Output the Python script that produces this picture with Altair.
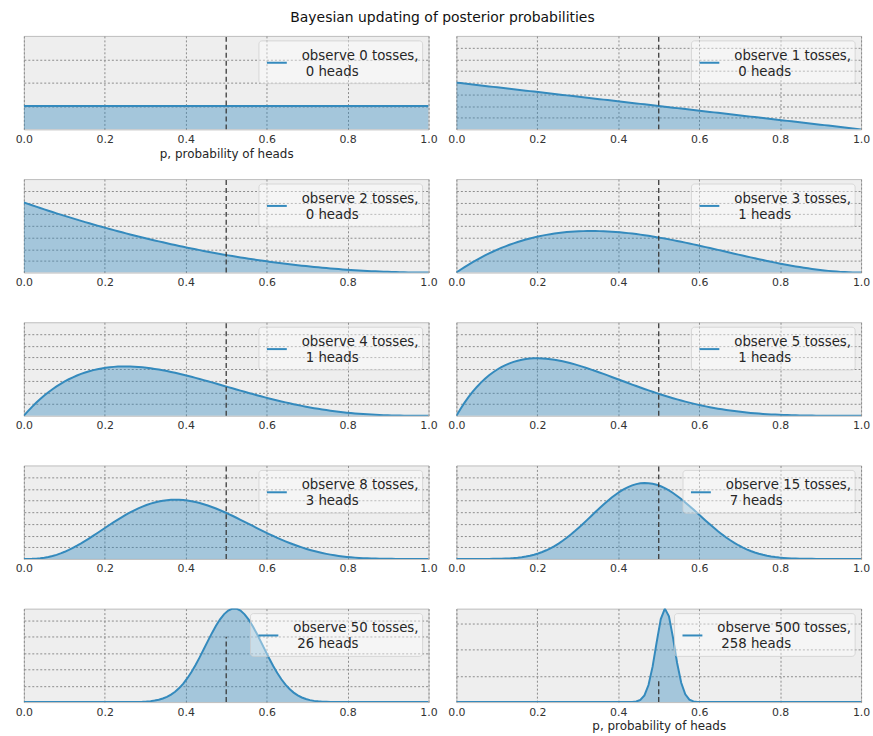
import math
import altair as alt
import pandas as pd

# observed data: number of tosses and number of heads in each panel
tosses = [0, 1, 2, 3, 4, 5, 8, 15, 50, 500]
heads = [0, 0, 0, 1, 1, 1, 3, 7, 26, 258]
grid_steps = [1, 0.5, 0.5, 0.5, 0.5, 0.5, 0.5, 0.5, 1, 5]
x_ticks = [0.0, 0.2, 0.4, 0.6, 0.8, 1.0]
n_points = 100

W, H = 407, 94
BLUE = "#348ABD"
FONT = "DejaVu Sans"
LEG_FS = 13.4
GRID = "#8c8c8c"

# approximate DejaVu Sans advance widths (em)
_w = {c: 0.636 for c in "0123456789"}
_w.update({" ": 0.318, ",": 0.318, "o": 0.612, "b": 0.635, "s": 0.521,
           "e": 0.615, "r": 0.411, "v": 0.592, "t": 0.392, "h": 0.634,
           "a": 0.613, "d": 0.635})


def text_width(s, fs):
    return sum(_w.get(c, 0.6) for c in s) * fs


def beta_pdf(p, a, b):
    if p <= 0:
        return float(b) if a == 1 else 0.0
    if p >= 1:
        return float(a) if b == 1 else 0.0
    logB = math.lgamma(a) + math.lgamma(b) - math.lgamma(a + b)
    return math.exp((a - 1) * math.log(p) + (b - 1) * math.log(1 - p) - logB)


def panel(k):
    N, h = tosses[k], heads[k]
    a, b = 1 + h, 1 + N - h
    xs = [i / (n_points - 1) for i in range(n_points)]
    df = pd.DataFrame({"p": xs, "density": [beta_pdf(x, a, b) for x in xs]})
    ymax = max(4.0, float(df["density"].max()))
    step = grid_steps[k]
    yvals = []
    i = 1
    while i * step < ymax - 1e-9:
        yvals.append(round(i * step, 3))
        i += 1

    axis_kw = dict(values=x_ticks, format=".1f", labelFlush=False,
                   labelOverlap=False, grid=True, labelPadding=4, tickCount=20)
    if k in (0, len(tosses) - 1):
        axis_kw["title"] = "p, probability of heads"
    else:
        axis_kw["title"] = ""
    xscale = alt.Scale(domain=[0, 1], nice=False, zero=False)
    yscale = alt.Scale(domain=[0, ymax], nice=False, zero=True)
    xenc = alt.X("p:Q", scale=xscale, axis=alt.Axis(**axis_kw))
    yenc = alt.Y("density:Q", scale=yscale,
                 axis=alt.Axis(values=yvals, tickCount=40, labels=False, ticks=False,
                               domain=False, title="", grid=True,
                               labelOverlap=False, gridColor=GRID,
                               gridDash=[2, 2], gridWidth=1))

    base = alt.Chart(df)
    area = base.mark_area(color=BLUE, opacity=0.4, clip=True).encode(x=xenc, y=yenc)
    line = base.mark_line(color=BLUE, strokeWidth=2, clip=True).encode(
        x="p:Q", y="density:Q")
    vline = alt.Chart(pd.DataFrame({"p": [0.5], "y0": [0.0], "y1": [4.0]})).mark_rule(
        color="#3a3a3a", strokeDash=[5, 3], strokeWidth=1.3).encode(
        x="p:Q", y="y0:Q", y2="y1:Q")

    label1 = f"observe {N} tosses,"
    label2 = f"{h} heads"
    tw = text_width(label1, LEG_FS)
    tl = W - 10 - tw
    leg = pd.DataFrame({"l1": [label1], "l2": [label2]})
    box = alt.Chart(leg).mark_rect(fill="white", fillOpacity=0.4, stroke="#cccccc",
                                   strokeOpacity=0.7, cornerRadius=3).encode(
        x=alt.value(tl - 43), x2=alt.value(W - 6), y=alt.value(5), y2=alt.value(48))
    sample = alt.Chart(leg).mark_rule(color=BLUE, strokeWidth=2).encode(
        x=alt.value(tl - 35), x2=alt.value(tl - 15), y=alt.value(27))
    t1 = alt.Chart(leg).mark_text(align="left", baseline="middle", fontSize=LEG_FS,
                                  font=FONT, color="#262626").encode(
        x=alt.value(tl), y=alt.value(20), text="l1:N")
    t2 = alt.Chart(leg).mark_text(align="left", baseline="middle", fontSize=LEG_FS,
                                  font=FONT, color="#262626").encode(
        x=alt.value(tl + 4), y=alt.value(36), text="l2:N")

    return alt.layer(area, line, vline, box, sample, t1, t2).properties(
        width=W, height=H)


panels = [panel(k) for k in range(len(tosses))]

chart = alt.concat(
    *panels, columns=2, spacing={"row": 50, "column": 28}, bounds="flush"
).properties(
    title=alt.TitleParams("Bayesian updating of posterior probabilities",
                          anchor="middle", fontSize=14, fontWeight="normal",
                          font=FONT, color="#111111", offset=10),
    padding={"left": 14, "top": 8, "right": 2, "bottom": 2},
    background="white",
).configure_view(
    fill="#eeeeee", stroke="#bcbcbc", strokeWidth=1
).configure_axis(
    labelFont=FONT, labelFontSize=11, labelColor="#333333",
    titleFont=FONT, titleFontSize=12, titleFontWeight="normal", titleColor="#262626",
    titlePadding=4, gridColor=GRID, gridDash=[2, 2], gridWidth=1,
    domain=False, ticks=False
)

chart.save("out.html", embed_options={"renderer": "svg", "actions": False})
